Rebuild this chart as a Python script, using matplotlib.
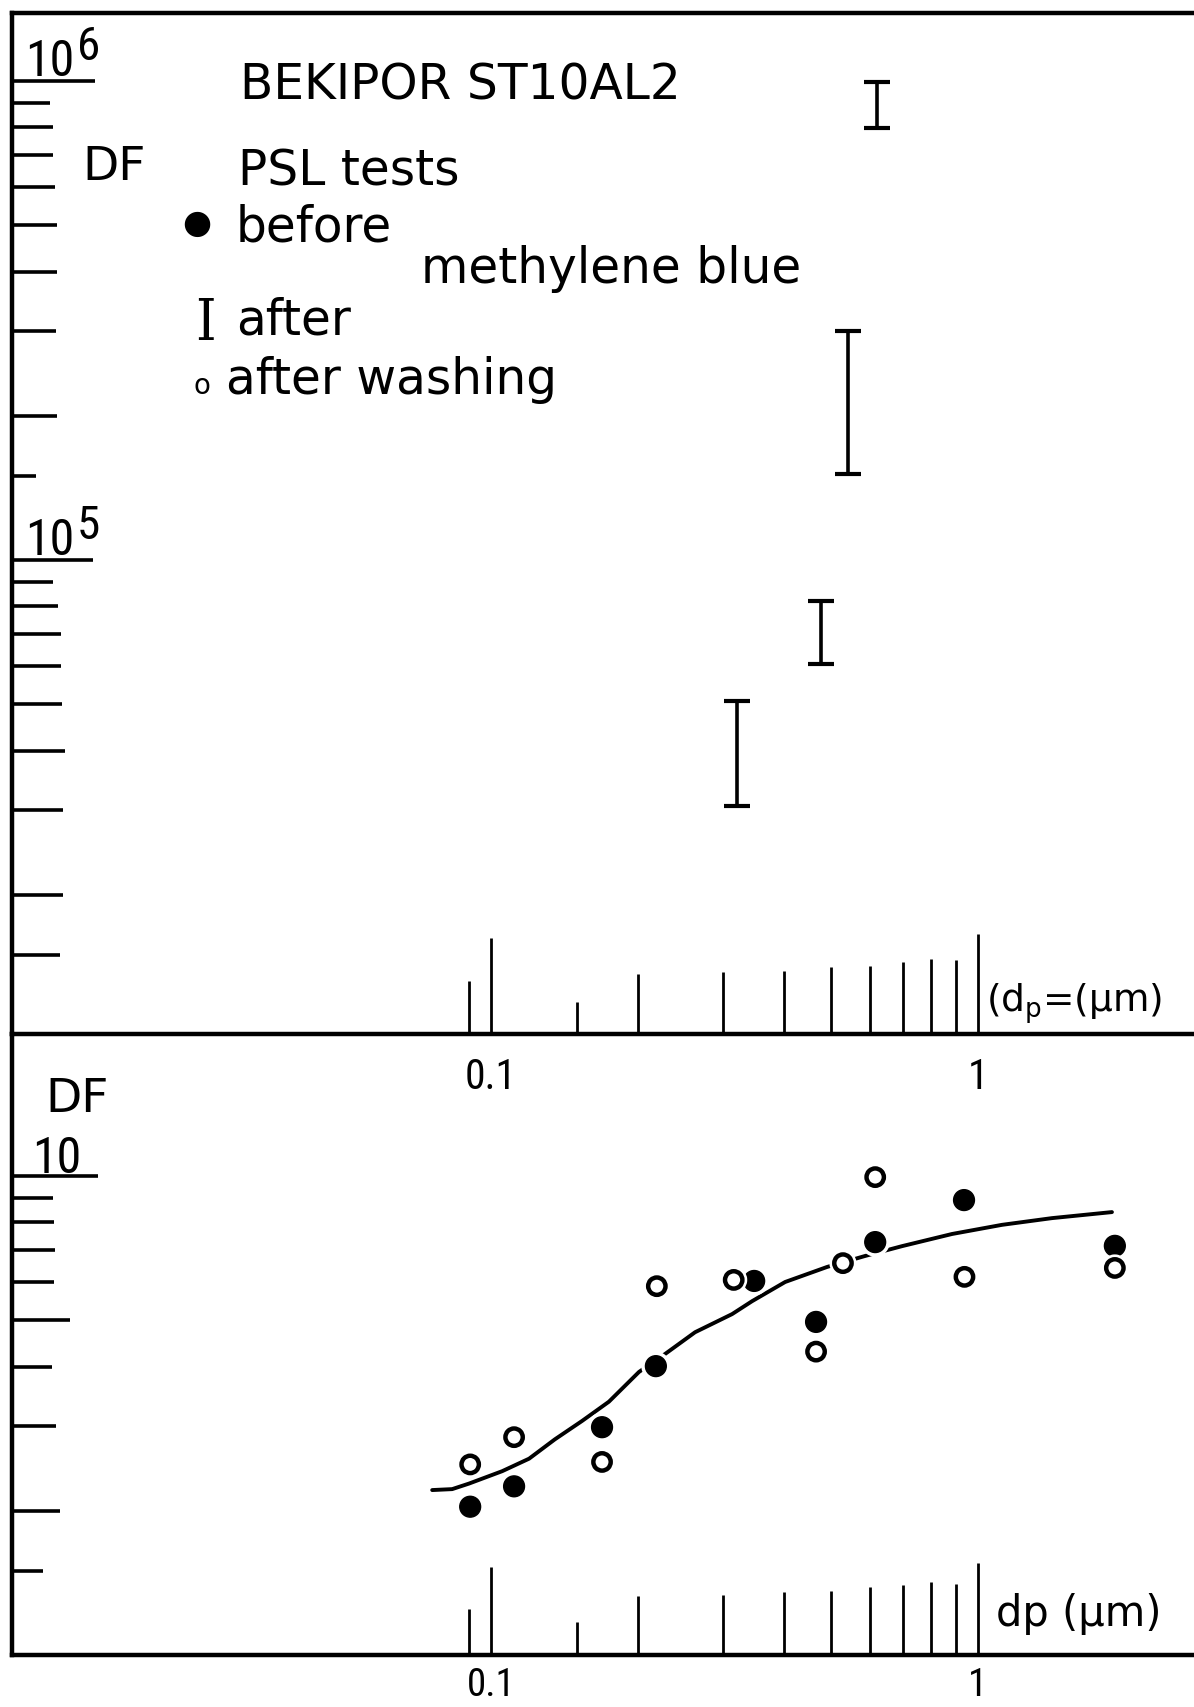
"""Bekipor ST10AL2 filter: decontamination factor vs PSL particle size."""

import matplotlib
matplotlib.use("Agg")
import matplotlib.pyplot as plt
import matplotlib.patheffects as pe
import matplotlib.ticker as mticker
from matplotlib import font_manager

W, H, DPI = 1194, 1708, 100

# particle diameter ticks (um), same on both panels
DP_TICKS = [0.09, 0.1, 0.15, 0.2, 0.3, 0.4, 0.5, 0.6, 0.7, 0.8, 0.9, 1.0]
DP_LABELS = ["", "0.1", "", "", "", "", "", "", "", "", "", "1"]

# upper panel: DF range after methylene blue
MB_DP = [0.32, 0.475, 0.54, 0.62]
MB_DF_LOW = [3.06e4, 6.07e4, 1.51e5, 7.98e5]
MB_DF_HIGH = [5.08e4, 8.2e4, 3.0e5, 9.95e5]
TOP_DF_TICKS = [1.5e4, 2e4, 3e4, 4e4, 5e4, 6e4, 7e4, 8e4, 9e4, 1e5,
                1.5e5, 2e5, 3e5, 4e5, 5e5, 6e5, 7e5, 8e5, 9e5, 1e6]
TOP_DECADES = [1e5, 1e6]
TOP_EXPONENTS = ["5", "6"]

# lower panel: before methylene blue (filled) and after washing (open)
BEFORE_DP = [0.0906, 0.1115, 0.169, 0.218, 0.347, 0.465, 0.615, 0.936, 1.91]
BEFORE_DF = [2.04, 2.25, 2.99, 4.01, 6.04, 4.96, 7.28, 8.91, 7.15]
WASHED_DP = [0.0906, 0.1115, 0.169, 0.219, 0.315, 0.465, 0.528, 0.615, 0.938, 1.91]
WASHED_DF = [2.50, 2.85, 2.53, 5.89, 6.07, 4.30, 6.58, 9.95, 6.16, 6.43]
CURVE_DP = [0.0757, 0.0832, 0.0901, 0.1054, 0.1197, 0.1352, 0.1537, 0.1746,
            0.2013, 0.2276, 0.2624, 0.3126, 0.3436, 0.4018, 0.4898, 0.5861,
            0.6982, 0.8846, 1.120, 1.419, 1.884]
CURVE_DF = [2.21, 2.22, 2.28, 2.42, 2.57, 2.82, 3.08, 3.38, 3.90, 4.25, 4.72,
            5.15, 5.48, 6.01, 6.46, 6.81, 7.14, 7.57, 7.91, 8.17, 8.41]
BOT_DF_TICKS = [1.5, 2, 3, 4, 5, 6, 7, 8, 9, 10]

# hand drawn tick lengths (pixels), one per tick above
TOP_X_LEN = [53, 96, 32, 60, 62, 63, 67, 68, 72, 75, 74, 100]
BOT_X_LEN = [46, 88, 33, 59, 60, 63, 64, 68, 70, 73, 71, 92]
TOP_Y_LEN = [48, 51, 51, 53, 50, 49, 49, 46, 41, 81,
             24, 45, 44, 45, 45, 43, 41, 41, 38, 83]
BOT_Y_LEN = [31, 48, 44, 40, 58, 42, 43, 42, 41, 86]

LEFT_PX, TOP_PX, MID_PX, BOT_PX = 12, 14, 1035, 1656
LETTER = 35  # stencil lettering size, pt

_fonts = {f.name for f in font_manager.fontManager.ttflist}
NARROW = next((n for n in ("Liberation Sans Narrow", "Roboto Condensed")
               if n in _fonts), "DejaVu Sans")
NUM_SCALE = 1.0 if NARROW != "DejaVu Sans" else 0.82
NUM = dict(family=NARROW, stretch="condensed")

plt.rcParams["font.family"] = ["DejaVu Sans"]


def pt(pixels):
    return pixels * 72.0 / DPI


def at(x, y):
    return x / W, 1 - y / H


def box(top, bottom):
    return [LEFT_PX / W, 1 - bottom / H, 1 - LEFT_PX / W, (bottom - top) / H]


def set_ticks(axis, values, lengths, width):
    axis.set_major_locator(mticker.FixedLocator(values))
    axis.set_minor_locator(mticker.NullLocator())
    for tick, length in zip(axis.get_major_ticks(len(values)), lengths):
        tick.tick1line.set_markersize(pt(length))
        tick.tick1line.set_markeredgewidth(width)


def frame(ax, ylim, y_ticks, y_len, x_len, label_pad, label_size):
    ax.set_xscale("log")
    ax.set_yscale("log")
    ax.set_xlim(0.01038, 2.777)
    ax.set_ylim(*ylim)
    ax.set_facecolor("none")
    ax.spines["right"].set_visible(False)
    for side in ("left", "top", "bottom"):
        ax.spines[side].set_linewidth(3.2)
        ax.spines[side].set_capstyle("projecting")
    ax.tick_params(axis="both", which="both", direction="in", color="black",
                   left=True, bottom=True, right=False, top=False,
                   labelleft=False)
    ax.tick_params(axis="x", pad=label_pad)
    set_ticks(ax.xaxis, DP_TICKS, x_len, 2.0)
    ax.xaxis.set_major_formatter(mticker.FixedFormatter(DP_LABELS))
    for tick in ax.xaxis.get_major_ticks(len(DP_TICKS)):
        tick.label1.set_fontfamily(NARROW)
        tick.label1.set_fontstretch("condensed")
        tick.label1.set_fontsize(label_size * NUM_SCALE)
    set_ticks(ax.yaxis, y_ticks, y_len, 2.6)


fig = plt.figure(figsize=(W / DPI, H / DPI), dpi=DPI)
fig.patch.set_facecolor("white")

ax_top = fig.add_axes(box(TOP_PX, MID_PX))
ax_bot = fig.add_axes(box(MID_PX, BOT_PX))

frame(ax_top, (1.024e4, 1.387e6), TOP_DF_TICKS, TOP_Y_LEN, TOP_X_LEN, 16, 30)
frame(ax_bot, (1.0, 19.8), BOT_DF_TICKS, BOT_Y_LEN, BOT_X_LEN, 8, 28)
ax_bot.spines["top"].set_visible(False)

# --- upper panel: I bars after methylene blue
span = [h - l for l, h in zip(MB_DF_LOW, MB_DF_HIGH)]
ax_top.errorbar(MB_DP, MB_DF_LOW, yerr=[[0] * len(span), span], fmt="none",
                ecolor="black", elinewidth=2.6, capsize=pt(13), capthick=3.0)

for value, exp in zip(TOP_DECADES, TOP_EXPONENTS):
    ax_top.annotate("10", xy=(0, value), xycoords=("axes fraction", "data"),
                    xytext=(13, 6), textcoords="offset pixels",
                    va="baseline", ha="left", fontsize=36 * NUM_SCALE, **NUM)
    ax_top.annotate(exp, xy=(0, value), xycoords=("axes fraction", "data"),
                    xytext=(65, 22), textcoords="offset pixels",
                    va="baseline", ha="left", fontsize=34 * NUM_SCALE, **NUM)

fig.text(*at(240, 100), "BEKIPOR ST10AL2", ha="left", va="baseline",
         fontsize=LETTER)
fig.text(*at(82, 180), "DF", ha="left", va="baseline", fontsize=LETTER - 1)
fig.text(*at(238, 186), "PSL tests", ha="left", va="baseline",
         fontsize=LETTER)
fig.text(*at(197, 223), "\u25cf", ha="center", va="center", fontsize=24)
fig.text(*at(236, 241), "before", ha="left", va="baseline", fontsize=LETTER)
fig.text(*at(421, 283), "methylene blue", ha="left", va="baseline",
         fontsize=LETTER)
fig.text(*at(205, 340), "I", ha="center", va="baseline", fontsize=42,
         family="DejaVu Serif", stretch="condensed")
fig.text(*at(236, 335), "after", ha="left", va="baseline", fontsize=LETTER)
fig.text(*at(202, 394), "o", ha="center", va="baseline", fontsize=20)
fig.text(*at(226, 394), "after washing", ha="left", va="baseline",
         fontsize=LETTER)
fig.text(*at(986, 1012), r"(d$_\mathregular{p}$=(μm)", ha="left",
         va="baseline", fontsize=27)

# --- lower panel: PSL results and fitted curve
ax_bot.plot(CURVE_DP, CURVE_DF, color="black", lw=2.8,
            solid_capstyle="round", zorder=2)
ax_bot.plot(BEFORE_DP, BEFORE_DF, ls="none", marker="o", ms=15,
            mfc="black", mec="black", mew=1, zorder=3,
            path_effects=[pe.Stroke(linewidth=6, foreground="white"),
                          pe.Normal()])
ax_bot.plot(WASHED_DP, WASHED_DF, ls="none", marker="o", ms=12.5,
            mfc="white", mec="black", mew=3.2, zorder=3,
            path_effects=[pe.Stroke(linewidth=7, foreground="white"),
                          pe.Normal()])

ax_bot.annotate("10", xy=(0, 10), xycoords=("axes fraction", "data"),
                xytext=(20, 4), textcoords="offset pixels",
                va="baseline", ha="left", fontsize=36 * NUM_SCALE, **NUM)
fig.text(*at(45, 1112), "DF", ha="left", va="baseline", fontsize=LETTER - 1)
fig.text(*at(996, 1626), "dp (μm)", ha="left", va="baseline", fontsize=30)

fig.savefig("out.png", dpi=DPI, facecolor="white")
